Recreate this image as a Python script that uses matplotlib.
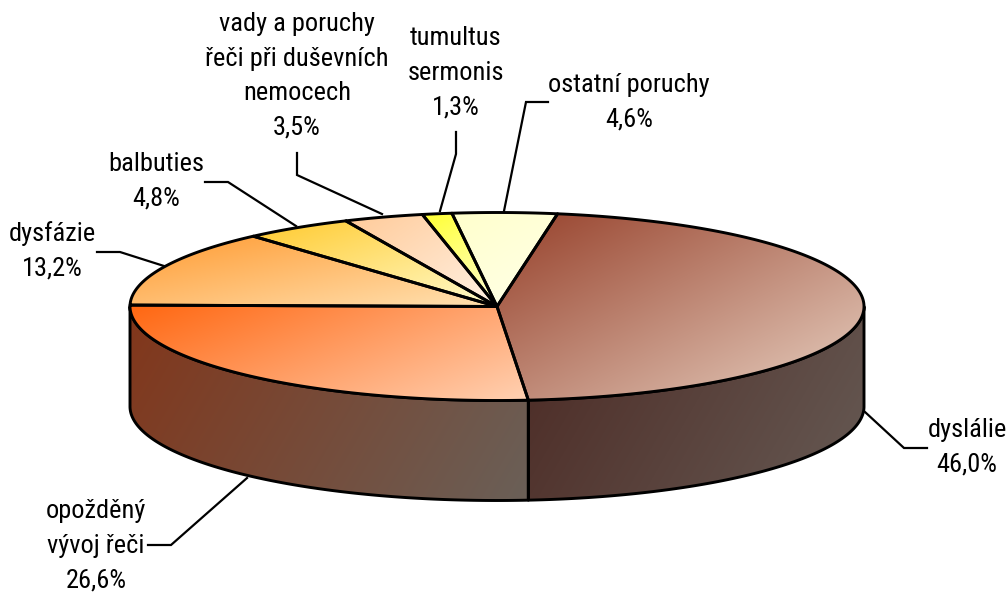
import numpy as np
import matplotlib
matplotlib.use('Agg')
import matplotlib.pyplot as plt
from matplotlib.colors import to_rgb
from matplotlib.patches import Polygon

labels = ['dyslálie', 'opožděný\nvývoj řeči', 'dysfázie', 'balbuties',
          'vady a poruchy\nřeči při duševních\nnemocech', 'tumultus\nsermonis',
          'ostatní poruchy']
values = [46.0, 26.6, 13.2, 4.8, 3.5, 1.3, 4.6]

top_from = ['#96402a', '#ff6610', '#ff9a30', '#ffc92c', '#ffca98', '#ffff30', '#ffffcc']
top_to = ['#dcbcac', '#ffd2b4', '#ffdca8', '#fff8c0', '#ffeedd', '#ffffc8', '#ffffe6']
top_angle = [62, 68, 78, 70, 55, 60, 60]
top_end = [0.85, 1.0, 0.9, 0.9, 0.9, 0.9, 0.9]
side_from = ['#4c2a24', '#82361a']
side_to = ['#665a54', '#6a6058']

# pie geometry in pixels
cx, cy = 497, 306.5
rx, ry = 367, 94
depth = 100
start_angle = 80.5

label_pos = [(967, 447), (96, 546), (52, 251), (156, 181), (297, 76), (456, 73), (629, 102)]
leaders = [
    [(865, 412), (904, 448), (927, 448)],
    [(148, 545), (171, 545), (247, 478)],
    [(97, 252), (120, 252), (164, 266)],
    [(205, 182), (228, 182), (296, 226)],
    [(297, 153), (297, 175), (382, 214)],
    [(456, 132), (456, 154), (440, 211)],
    [(548, 102), (526, 102), (504, 211)],
]


def rim(a):
    a = np.radians(a)
    return np.column_stack([cx + rx * np.cos(a), cy - ry * np.sin(a)])


def gradient(ax, xy, c0, c1, angle=45, end=1.0, zorder=1):
    x0, y0 = xy.min(axis=0)
    x1, y1 = xy.max(axis=0)
    w, h = int(x1 - x0) + 2, int(y1 - y0) + 2
    xx, yy = np.meshgrid(np.linspace(0, w, w), np.linspace(0, h, h))
    d = np.cos(np.radians(angle)) * xx + np.sin(np.radians(angle)) * yy
    t = np.clip((d - d.min()) / (d.max() - d.min()) / end, 0, 1)[..., None]
    img = (1 - t) * np.array(to_rgb(c0)) + t * np.array(to_rgb(c1))
    im = ax.imshow(img, extent=(x0 - 1, x0 + w, y0 + h, y0 - 1), aspect='auto',
                   zorder=zorder, interpolation='bilinear')
    patch = Polygon(xy, closed=True, fc='none', ec='black', lw=2.1, joinstyle='round', zorder=zorder + 0.5)
    ax.add_patch(patch)
    im.set_clip_path(patch)


fig = plt.figure(figsize=(10.08, 5.93), dpi=100)
ax = fig.add_axes([0, 0, 1, 1])

edges = start_angle - np.cumsum([0] + values) * 3.6

# outer wall, only the part facing the viewer
for i in range(2):
    a0, a1 = min(edges[i], 0), max(edges[i + 1], -180)
    arc = rim(np.linspace(a0, a1, 200))
    wall = np.vstack([arc, arc[::-1] + [0, depth]])
    gradient(ax, wall, side_from[i], side_to[i], angle=30, zorder=1)

for i in range(len(values)):
    arc = rim(np.linspace(edges[i], edges[i + 1], 200))
    xy = np.vstack([[cx, cy], arc])
    gradient(ax, xy, top_from[i], top_to[i], angle=top_angle[i], end=top_end[i], zorder=2)

for i in range(len(values)):
    pts = np.array(leaders[i])
    ax.plot(pts[:, 0], pts[:, 1], color='black', lw=1.6, zorder=4, solid_joinstyle='miter')
    txt = labels[i] + '\n' + f'{values[i]:.1f}%'.replace('.', ',')
    ax.text(label_pos[i][0], label_pos[i][1], txt, ha='center', va='center', ma='center',
            family=['Roboto Condensed', 'Roboto'], fontsize=19, linespacing=1.56, color='black', zorder=5)

ax.set_xlim(0, 1008)
ax.set_ylim(593, 0)
ax.axis('off')
fig.savefig('out.png', dpi=100)
